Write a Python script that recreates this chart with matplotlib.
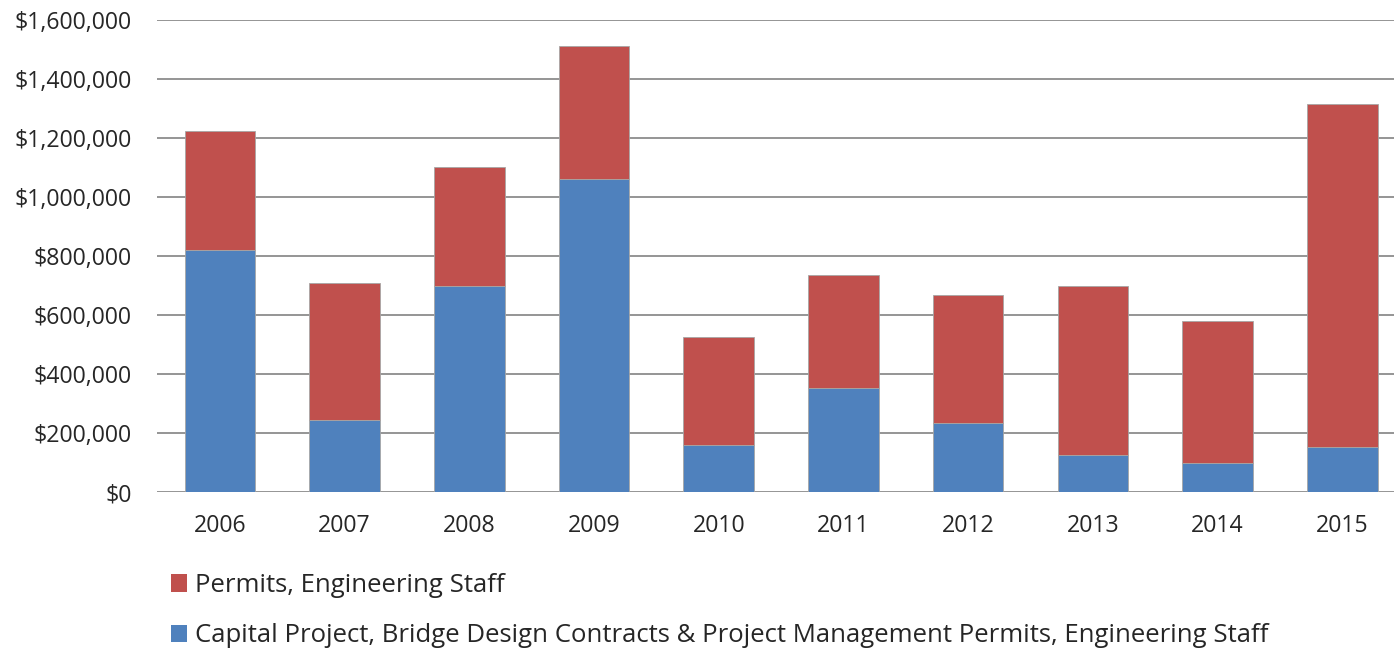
import matplotlib
matplotlib.use("Agg")
import matplotlib.pyplot as plt
from matplotlib.ticker import FuncFormatter
from matplotlib.patches import Patch

years = ["2006", "2007", "2008", "2009", "2010", "2011", "2012", "2013", "2014", "2015"]
capital = [820000, 244000, 698000, 1061000, 158000, 354000, 233000, 124000, 97000, 154000]
totals = [1223000, 707000, 1102000, 1512000, 524000, 737000, 668000, 698000, 581000, 1314000]
permits = [t - c for t, c in zip(totals, capital)]

blue = "#4F81BD"
red = "#C0504D"
plt.rcParams["font.family"] = ["Open Sans", "DejaVu Sans"]

fig = plt.figure(figsize=(13.94, 6.48), dpi=100)
ax = fig.add_axes([0.1126, 0.2407, 0.8874, 0.7284])

x = list(range(len(years)))
ax.bar(x, capital, width=0.566, color=blue, edgecolor="#A6A6A6", linewidth=0.6, zorder=3)
ax.bar(x, permits, bottom=capital, width=0.566, color=red, edgecolor="#A6A6A6", linewidth=0.6, zorder=3)

ax.set_ylim(0, 1600000)
ax.set_xlim(-0.505, 9.415)
ax.set_yticks(range(0, 1600001, 200000))
ax.yaxis.set_major_formatter(FuncFormatter(lambda v, p: "${:,.0f}".format(v)))
ax.set_xticks(x)
ax.set_xticklabels(years)
ax.grid(axis="y", color="#8C8C8C", linewidth=1.3, zorder=0)
for s in ax.spines.values():
    s.set_visible(False)
ax.tick_params(axis="both", length=0, labelsize=16.7, colors="#262626")
ax.tick_params(axis="y", pad=18)
ax.tick_params(axis="x", pad=16)

handles = [Patch(facecolor=red, edgecolor="none"), Patch(facecolor=blue, edgecolor="none")]
labels = ["Permits, Engineering Staff",
          "Capital Project, Bridge Design Contracts & Project Management Permits, Engineering Staff"]
fig.legend(handles, labels, loc="upper left", bbox_to_anchor=(0.1155, 0.132), frameon=False,
           fontsize=18.5, ncol=1, handlelength=0.62, handleheight=0.68, handletextpad=0.3,
           labelspacing=1.0, borderaxespad=0, labelcolor="#262626")

fig.savefig("out.png", dpi=100)
